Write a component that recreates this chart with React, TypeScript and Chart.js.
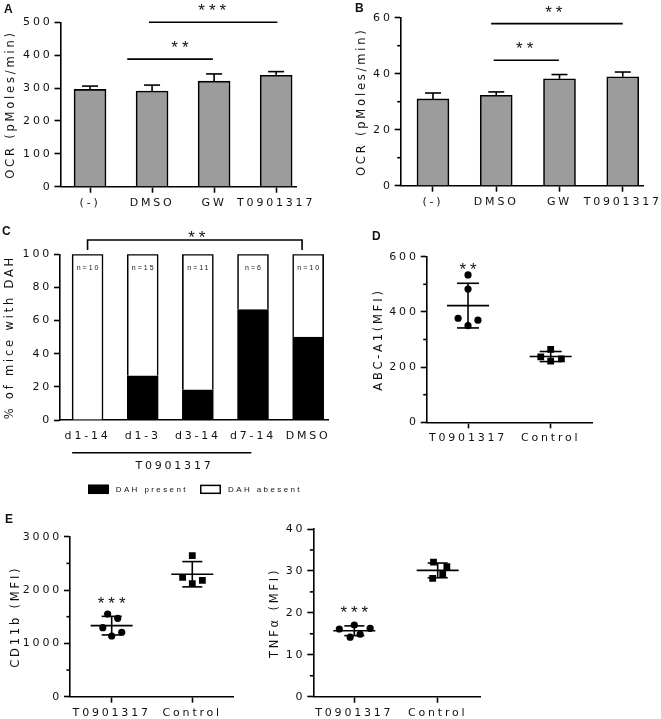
import React, { useEffect, useRef } from 'react';
import { Chart, registerables } from 'chart.js';

Chart.register(...registerables);

const CW = 661;
const CH = 719;
const SANS = '"DejaVu Sans", "Liberation Sans", Arial, sans-serif';
const ARIAL = '"Liberation Sans", Arial, sans-serif';
const INK = '#111111';

// ---------- data ----------
const ocrCategories = ['(-)', 'DMSO', 'GW', 'T0901317'];
const ocrAMeans = [296, 291, 321, 339];
const ocrASem = [10, 18, 22, 11];
const ocrATicks = [0, 100, 200, 300, 400, 500];
const ocrBMeans = [31.0, 32.3, 38.2, 38.9];
const ocrBSem = [2.1, 1.2, 1.5, 1.7];
const ocrBTicks = [0, 20, 40, 60];
const ocrBMinor = [10, 30, 50];
const sigA = [
  { from: 1.95, to: 4.02, level: 500, stars: '***', at: 2.97 },
  { from: 1.6, to: 2.98, level: 388, stars: '**', at: 2.45 },
];
const sigB = [
  { from: 1.92, to: 4.0, level: 57.9, stars: '**', at: 2.91 },
  { from: 1.96, to: 2.99, level: 44.8, stars: '**', at: 2.45 },
];

const dahGroups = ['d1-14', 'd1-3', 'd3-14', 'd7-14', 'DMSO'];
const dahPresent = [0, 26.7, 18.2, 66.7, 50];
const dahAbsent = [100, 73.3, 81.8, 33.3, 50];
const dahN = [10, 15, 11, 6, 10];
const dahTicks = [0, 20, 40, 60, 80, 100];
const dahSig = { from: 1, to: 4.89, level: 108.6, drop: 102.6, stars: '**', at: 2.98 };
const dahTreatment = { label: 'T0901317', from: 0.72, to: 3.97, at: 2.55 };

const mfiGroups = ['T0901317', 'Control'];
const abcaT = [534, 483, 377, 350, 370];
const abcaTJitter = [0, 0, -0.12, 0, 0.12];
const abcaC = [264, 237, 222, 230];
const abcaCJitter = [0, -0.12, 0, 0.13];
const abcaTicks = [0, 200, 400, 600];
const abcaMinor = [100, 300, 500];
const abcaStars = { stars: '**', level: 570 };

const cd11bT = [1551, 1470, 1294, 1208, 1138];
const cd11bTJitter = [-0.05, 0.075, -0.11, 0.125, 0];
const cd11bC = [2644, 2239, 2183, 2119];
const cd11bCJitter = [0, -0.12, 0.125, 0];
const cd11bTicks = [0, 1000, 2000, 3000];
const cd11bMinor = [500, 1500, 2500];
const cd11bStars = { stars: '***', level: 1832 };

const tnfT = [16.15, 17.1, 16.3, 14.2, 14.9];
const tnfTJitter = [-0.18, 0, 0.19, -0.05, 0.07];
const tnfC = [32.1, 31.0, 29.2, 28.2];
const tnfCJitter = [-0.05, 0.11, 0.06, -0.06];
const tnfTicks = [0, 10, 20, 30, 40];
const tnfMinor = [5, 15, 25, 35];
const tnfStars = { stars: '***', level: 21.1 };

// ---------- helpers ----------
type Area = { left: number; right: number; top: number; bottom: number; axisW: number };
const X_AXIS_H = 22;
const LS = 2.8;

function padding(a: Area) {
  return { left: a.left - a.axisW, top: a.top, right: CW - a.right, bottom: CH - a.bottom - X_AXIS_H };
}

function axes(p: {
  area: Area; xMin: number; xMax: number; labels: string[]; xTickMarks: boolean;
  yMax: number; yTicks: number[]; title: string; stacked?: boolean;
}) {
  const tickFont = { family: SANS, size: 11 };
  const grid = (show: boolean) => ({
    display: true, drawOnChartArea: false, drawTicks: true, tickLength: 6, tickWidth: 1.6,
    tickColor: show ? '#000' : 'rgba(0,0,0,0)', offset: false,
  });
  const border = { display: true, color: '#000', width: 1.6 };
  return {
    x: {
      type: 'linear', min: p.xMin, max: p.xMax, stacked: !!p.stacked, offset: false,
      afterBuildTicks: (s: any) => { s.ticks = p.labels.map((_, i) => ({ value: i + 1 })); },
      afterFit: (s: any) => { s.height = X_AXIS_H; s.paddingLeft = 0; s.paddingRight = 0; },
      ticks: {
        callback: (v: any) => p.labels[Math.round(Number(v)) - 1] ?? '',
        font: tickFont, color: INK, padding: 3.5, maxRotation: 0, minRotation: 0, autoSkip: false,
      },
      grid: grid(p.xTickMarks),
      border,
    },
    y: {
      type: 'linear', min: 0, max: p.yMax, stacked: !!p.stacked, offset: false,
      afterBuildTicks: (s: any) => { s.ticks = p.yTicks.map((v) => ({ value: v })); },
      afterFit: (s: any) => { s.width = p.area.axisW; s.paddingTop = 0; s.paddingBottom = 0; },
      ticks: { callback: (v: any) => String(v), font: tickFont, color: INK, padding: 2 },
      grid: grid(true),
      border,
      title: { display: true, text: p.title, font: { family: SANS, size: 11.5 }, color: INK, padding: 0 },
    },
  };
}

const spacing = {
  id: 'spacing',
  beforeLayout(chart: any) { chart.ctx.letterSpacing = `${LS}px`; },
  beforeDraw(chart: any) { chart.ctx.letterSpacing = `${LS}px`; },
};

function text(ctx: any, s: string, x: number, y: number, o: { size: number; ls: number; align?: string; baseline?: string; bold?: boolean; family?: string }) {
  ctx.save();
  ctx.font = `${o.bold ? 'bold ' : ''}${o.size}px ${o.family ?? SANS}`;
  ctx.letterSpacing = `${o.ls}px`;
  ctx.textAlign = o.align ?? 'center';
  ctx.textBaseline = o.baseline ?? 'middle';
  ctx.fillStyle = INK;
  const shift = (o.align ?? 'center') === 'center' ? o.ls / 2 : 0;
  ctx.fillText(s, x + shift, y);
  ctx.restore();
}

function stars(ctx: any, s: string, x: number, yCenter: number) {
  text(ctx, s, x, yCenter + 0.585 * 17, { size: 17, ls: 4, baseline: 'alphabetic', family: ARIAL });
}

function letter(ctx: any, s: string, x: number, baseline: number) {
  text(ctx, s, x, baseline, { size: 12, ls: 0, align: 'left', baseline: 'alphabetic', bold: true, family: ARIAL });
}

function line(ctx: any, pts: number[][], w = 1.6) {
  ctx.save();
  ctx.strokeStyle = '#000';
  ctx.lineWidth = w;
  ctx.beginPath();
  ctx.moveTo(pts[0][0], pts[0][1]);
  for (let i = 1; i < pts.length; i++) ctx.lineTo(pts[i][0], pts[i][1]);
  ctx.stroke();
  ctx.restore();
}

function minorTicks(chart: any, values: number[]) {
  const { ctx, chartArea, scales } = chart;
  values.forEach((v) => {
    const py = scales.y.getPixelForValue(v);
    line(ctx, [[chartArea.left - 3.5, py], [chartArea.left, py]]);
  });
}

function errorBars(chart: any, means: number[], sem: number[]) {
  const { ctx, scales } = chart;
  means.forEach((m, i) => {
    const px = scales.x.getPixelForValue(i + 1);
    const y0 = scales.y.getPixelForValue(m);
    const y1 = scales.y.getPixelForValue(m + sem[i]);
    line(ctx, [[px, y0], [px, y1]]);
    line(ctx, [[px - 8, y1], [px + 8, y1]]);
  });
}

function sigLines(chart: any, list: { from: number; to: number; level: number; stars: string; at: number }[]) {
  const { ctx, scales } = chart;
  list.forEach((s) => {
    const py = scales.y.getPixelForValue(s.level);
    line(ctx, [[scales.x.getPixelForValue(s.from), py], [scales.x.getPixelForValue(s.to), py]]);
    stars(ctx, s.stars, scales.x.getPixelForValue(s.at), py - 16);
  });
}

function meanSd(v: number[]) {
  const m = v.reduce((a, b) => a + b, 0) / v.length;
  const sd = Math.sqrt(v.reduce((a, b) => a + (b - m) ** 2, 0) / (v.length - 1));
  return [m, sd];
}

function meanSdBars(chart: any, center: number, values: number[], capHalf: number) {
  const { ctx, scales } = chart;
  const [m, sd] = meanSd(values);
  const cx = scales.x.getPixelForValue(center);
  const ym = scales.y.getPixelForValue(m);
  const yt = scales.y.getPixelForValue(m + sd);
  const yb = scales.y.getPixelForValue(m - sd);
  line(ctx, [[cx - 21, ym], [cx + 21, ym]]);
  line(ctx, [[cx, yt], [cx, yb]]);
  line(ctx, [[cx - capHalf, yt], [cx + capHalf, yt]]);
  line(ctx, [[cx - capHalf, yb], [cx + capHalf, yb]]);
}

function base(area: Area, scales: any, plugins: any[]) {
  return {
    options: {
      responsive: false,
      animation: false as const,
      devicePixelRatio: 1,
      events: [] as any[],
      layout: { padding: padding(area) },
      plugins: { legend: { display: false }, tooltip: { enabled: false }, title: { display: false } },
      scales,
    },
    plugins: [spacing, ...plugins],
  };
}

// ---------- panels ----------
function makeOcr(canvas: HTMLCanvasElement, which: 'A' | 'B') {
  const isA = which === 'A';
  const area: Area = isA
    ? { left: 60.5, right: 296, top: 22.3, bottom: 186.7, axisW: 56.1 }
    : { left: 400.7, right: 643, top: 17.7, bottom: 185.7, axisW: 45.8 };
  const means = isA ? ocrAMeans : ocrBMeans;
  const sem = isA ? ocrASem : ocrBSem;
  const scales = axes({
    area, xMin: isA ? 0.524 : 0.49, xMax: 4.32, labels: ocrCategories, xTickMarks: true,
    yMax: isA ? 500 : 60, yTicks: isA ? ocrATicks : ocrBTicks, title: 'OCR (pMoles/min)',
  });
  const decor = {
    id: 'decor' + which,
    afterDatasetsDraw(chart: any) {
      errorBars(chart, means, sem);
      sigLines(chart, isA ? sigA : sigB);
      if (!isA) minorTicks(chart, ocrBMinor);
    },
    afterDraw(chart: any) {
      if (isA) letter(chart.ctx, 'A', 4, 12.7);
      else letter(chart.ctx, 'B', 355, 12);
    },
  };
  const b = base(area, scales, [decor]);
  return new Chart(canvas, {
    type: 'bar',
    data: {
      datasets: [{
        label: 'OCR',
        data: means.map((v, i) => ({ x: i + 1, y: v })),
        backgroundColor: '#9c9c9c',
        borderColor: '#000',
        borderWidth: 1.6,
        barThickness: 32,
      }],
    },
    options: b.options as any,
    plugins: b.plugins,
  });
}

function makeDah(canvas: HTMLCanvasElement) {
  const area: Area = { left: 60, right: 328, top: 254.3, bottom: 420, axisW: 56.6 };
  const scales = axes({
    area, xMin: 0.5, xMax: 5.36, labels: dahGroups, xTickMarks: false,
    yMax: 100, yTicks: dahTicks, title: '% of mice with DAH', stacked: true,
  });
  const decor = {
    id: 'decorC',
    afterDatasetsDraw(chart: any) {
      const { ctx, scales: s } = chart;
      dahN.forEach((n, i) => {
        text(ctx, `n=${n}`, s.x.getPixelForValue(i + 1), s.y.getPixelForValue(100) + 13.4, { size: 7, ls: 2, family: ARIAL });
      });
      const by = s.y.getPixelForValue(dahSig.level);
      const bd = s.y.getPixelForValue(dahSig.drop);
      const x1 = s.x.getPixelForValue(dahSig.from);
      const x2 = s.x.getPixelForValue(dahSig.to);
      line(ctx, [[x1, bd], [x1, by], [x2, by], [x2, bd]]);
      stars(ctx, dahSig.stars, s.x.getPixelForValue(dahSig.at), by - 7);
      // treatment group underline
      line(ctx, [[s.x.getPixelForValue(dahTreatment.from), 452.7], [s.x.getPixelForValue(dahTreatment.to), 452.7]]);
      text(ctx, dahTreatment.label, s.x.getPixelForValue(dahTreatment.at), 465.7, { size: 11, ls: LS });
      // legend
      const ds = chart.data.datasets;
      const items = [{ x: 88, tx: 115.7 }, { x: 200, tx: 228 }];
      ds.forEach((d: any, i: number) => {
        ctx.save();
        ctx.fillStyle = d.backgroundColor;
        ctx.fillRect(items[i].x, 484.7, 21, 9.3);
        ctx.strokeStyle = '#000';
        ctx.lineWidth = 1.5;
        ctx.strokeRect(items[i].x + 0.75, 485.4, 19.5, 7.9);
        ctx.restore();
        text(ctx, d.label, items[i].tx, 489.5, { size: 8, ls: 2.4, align: 'left', family: ARIAL });
      });
    },
    afterDraw(chart: any) {
      letter(chart.ctx, 'C', 2, 235);
    },
  };
  const b = base(area, scales, [decor]);
  return new Chart(canvas, {
    type: 'bar',
    data: {
      datasets: [
        {
          label: 'DAH present',
          data: dahPresent.map((v, i) => ({ x: i + 1, y: v })),
          backgroundColor: '#000', borderColor: '#000', borderWidth: 1.6, barThickness: 31,
        },
        {
          label: 'DAH abesent',
          data: dahAbsent.map((v, i) => ({ x: i + 1, y: v })),
          backgroundColor: '#fff', borderColor: '#000', borderWidth: 1.6, barThickness: 31,
        },
      ],
    },
    options: b.options as any,
    plugins: b.plugins,
  });
}

function makeScatter(
  canvas: HTMLCanvasElement,
  cfg: {
    id: string; area: Area; xMin: number; xMax: number; yMax: number; yTicks: number[]; minor: number[];
    title: string; t: number[]; tj: number[]; c: number[]; cj: number[]; sig: { stars: string; level: number };
    cap: number; letter?: { s: string; x: number; y: number };
  },
) {
  const scales = axes({
    area: cfg.area, xMin: cfg.xMin, xMax: cfg.xMax, labels: mfiGroups, xTickMarks: true,
    yMax: cfg.yMax, yTicks: cfg.yTicks, title: cfg.title,
  });
  const decor = {
    id: 'decor' + cfg.id,
    afterDatasetsDraw(chart: any) {
      minorTicks(chart, cfg.minor);
      meanSdBars(chart, 1, cfg.t, cfg.cap);
      meanSdBars(chart, 2, cfg.c, cfg.cap);
      stars(chart.ctx, cfg.sig.stars, chart.scales.x.getPixelForValue(1), chart.scales.y.getPixelForValue(cfg.sig.level));
    },
    afterDraw(chart: any) {
      if (cfg.letter) letter(chart.ctx, cfg.letter.s, cfg.letter.x, cfg.letter.y);
    },
  };
  const b = base(cfg.area, scales, [decor]);
  return new Chart(canvas, {
    type: 'scatter',
    data: {
      datasets: [
        {
          label: mfiGroups[0],
          data: cfg.t.map((v, i) => ({ x: 1 + cfg.tj[i], y: v })),
          pointStyle: 'circle', radius: 3.6, backgroundColor: '#000', borderColor: '#000', borderWidth: 0,
        },
        {
          label: mfiGroups[1],
          data: cfg.c.map((v, i) => ({ x: 2 + cfg.cj[i], y: v })),
          pointStyle: 'rect', radius: 4.8, backgroundColor: '#000', borderColor: '#000', borderWidth: 0,
        },
      ],
    },
    options: b.options as any,
    plugins: b.plugins,
  });
}

const makers: ((c: HTMLCanvasElement) => Chart)[] = [
  (c) => makeOcr(c, 'A'),
  (c) => makeOcr(c, 'B'),
  (c) => makeDah(c),
  (c) =>
    makeScatter(c, {
      id: 'D', area: { left: 426.7, right: 592, top: 256.7, bottom: 422.3, axisW: 54.3 },
      xMin: 0.5, xMax: 2.5, yMax: 600, yTicks: abcaTicks, minor: abcaMinor, title: 'ABC-A1(MFI)',
      t: abcaT, tj: abcaTJitter, c: abcaC, cj: abcaCJitter, sig: abcaStars, cap: 11,
      letter: { s: 'D', x: 372, y: 240 },
    }),
  (c) =>
    makeScatter(c, {
      id: 'E1', area: { left: 70, right: 233, top: 536.7, bottom: 696.7, axisW: 60.6 },
      xMin: 0.483, xMax: 2.505, yMax: 3000, yTicks: cd11bTicks, minor: cd11bMinor, title: 'CD11b (MFI)',
      t: cd11bT, tj: cd11bTJitter, c: cd11bC, cj: cd11bCJitter, sig: cd11bStars, cap: 10,
      letter: { s: 'E', x: 5, y: 522.7 },
    }),
  (c) =>
    makeScatter(c, {
      id: 'E2', area: { left: 313.3, right: 480.7, top: 529, bottom: 696.7, axisW: 44.9 },
      xMin: 0.508, xMax: 2.516, yMax: 40, yTicks: tnfTicks, minor: tnfMinor, title: 'TNFα (MFI)',
      t: tnfT, tj: tnfTJitter, c: tnfC, cj: tnfCJitter, sig: tnfStars, cap: 10,
    }),
];

function Layer({ make }: { make: (c: HTMLCanvasElement) => Chart }) {
  const ref = useRef<HTMLCanvasElement>(null);
  useEffect(() => {
    const chart = make(ref.current as HTMLCanvasElement);
    return () => chart.destroy();
  }, [make]);
  return (
    <canvas
      ref={ref}
      width={CW}
      height={CH}
      style={{ position: 'absolute', left: 0, top: 0, width: CW, height: CH }}
    />
  );
}

export default function App() {
  return (
    <div style={{ position: 'absolute', left: 0, top: 0, width: CW, height: CH, background: '#fff', overflow: 'hidden' }}>
      {makers.map((m, i) => (
        <Layer key={i} make={m} />
      ))}
    </div>
  );
}
